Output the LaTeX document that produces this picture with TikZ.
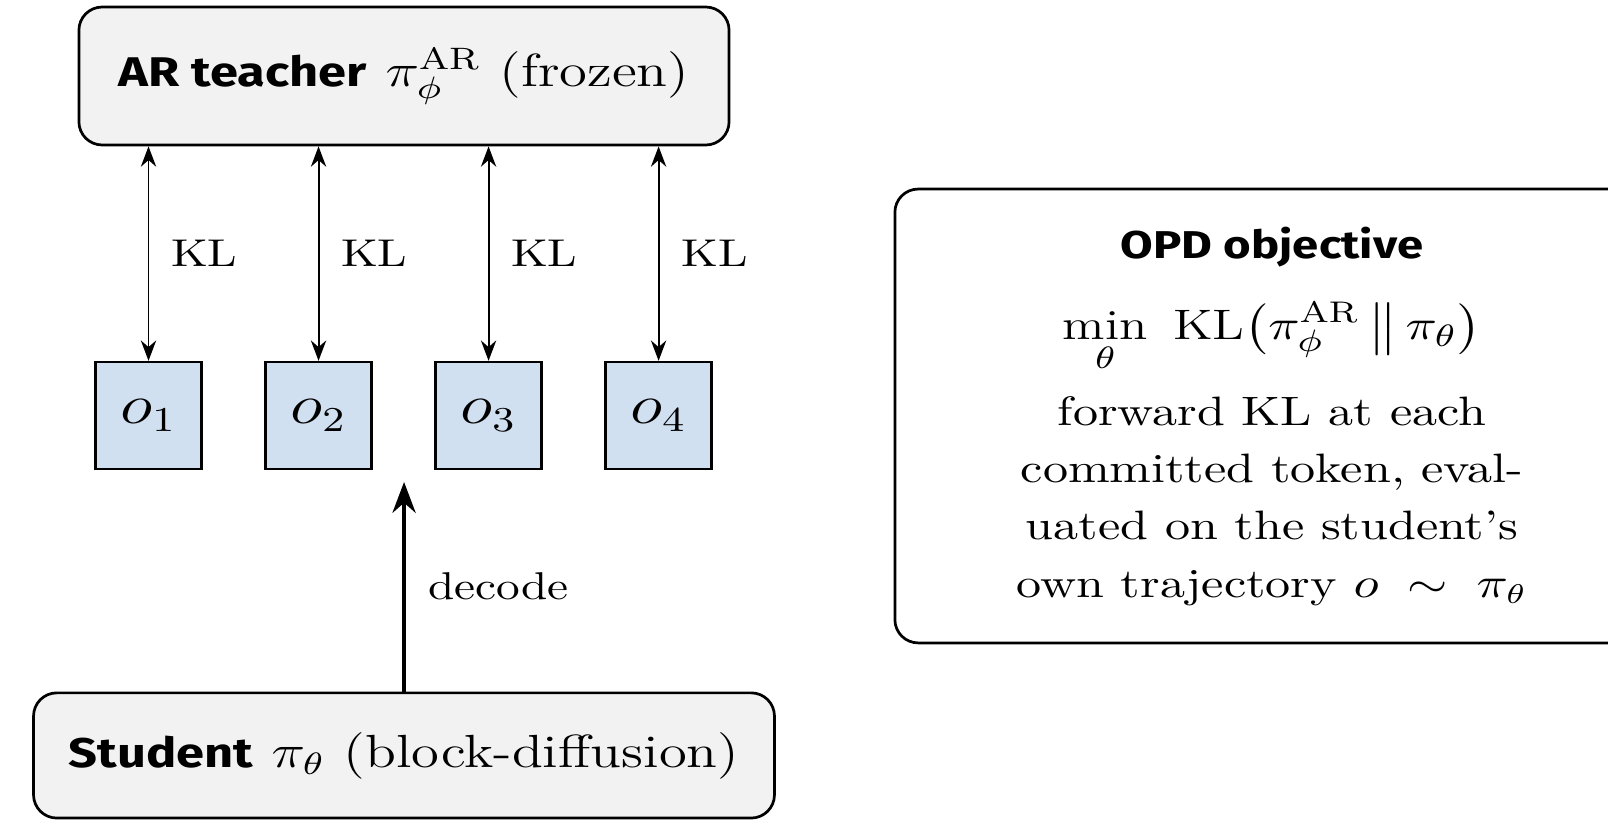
\documentclass[tikz,border=0pt]{standalone}
\usepackage{amsmath}
\usepackage{fontspec}
\setsansfont{Fira Sans}
\usetikzlibrary{arrows.meta, positioning}

\definecolor{boxgray}{RGB}{242,242,242}
\definecolor{tokblue}{RGB}{208,224,240}

\newcommand{\headword}[1]{{\fontsize{10.7}{14}\sffamily\bfseries #1}}

\tikzset{
  modelbox/.style={draw, fill=boxgray, rounded corners=6pt, line width=0.7pt, font=\fontsize{12}{14}\selectfont},
  opdbox/.style={draw, rounded corners=6pt, line width=0.7pt, minimum width=159.5pt, minimum height=117.1pt},
  tokbox/.style={draw, fill=tokblue, line width=0.6pt, inner sep=0pt, minimum width=22.4pt, minimum height=27.6pt, font=\fontsize{13.5}{15}\selectfont},
  klarrow/.style={{Stealth}-{Stealth}, line width=0.5pt},
  decarrow/.style={-{Stealth}, line width=1.1pt},
  lbl/.style={font=\fontsize{10}{12}\selectfont},
}

\begin{document}
\begin{tikzpicture}[x=0.21148pt, y=-0.258pt, xscale=1.22, every node/.append style={transform shape}]
  \clip (0,0) rectangle (1608,840);
  \useasboundingbox (0,0) rectangle (1608,840);

  \node[modelbox, minimum width=137.5pt, minimum height=35.6pt] (teacher) at (404,76)
    {\headword{AR teacher}\ $\pi^{\mathrm{AR}}_{\phi}$\ (frozen)};
  \node[modelbox, minimum width=156.7pt, minimum height=32.3pt] (student) at (404,755.5)
    {\headword{Student}\ $\pi_{\theta}$\ (block-diffusion)};

  \foreach \i in {1,...,4} {
    \node[tokbox] (o\i) at ({148.5+170*(\i-1)},415.5) {$o_{\i}$};
    \draw[klarrow] (o\i.north |- teacher.south) -- (o\i.north)
      node[lbl, midway, right=1.2pt] {KL};
  }

  \coordinate (decend) at (404,482);
  \draw[decarrow] (student.north) -- (decend) node[lbl, midway, right=1.2pt] {decode};

  \node[opdbox] (opd) at (1272,416) {};
  \node[font=\fontsize{10}{12}\selectfont\sffamily\bfseries, inner sep=1pt] (opdtitle) at (1272,247) {OPD objective};
  \node[font=\fontsize{11}{13}\selectfont, inner sep=1pt] (opdmath) at (1272,337)
    {$\displaystyle\min_{\theta}\ \mathrm{KL}\bigl(\pi^{\mathrm{AR}}_{\phi}\,\big\|\,\pi_{\theta}\bigr)$};
  \node[font=\fontsize{10.6}{14.8}\selectfont, align=center, inner sep=1pt] (opdtext) at (1272,501)
    {forward KL at each\\committed token, eval-\\uated on the student's\\own trajectory $o\;\sim\;\pi_{\theta}$};
\end{tikzpicture}
\end{document}
